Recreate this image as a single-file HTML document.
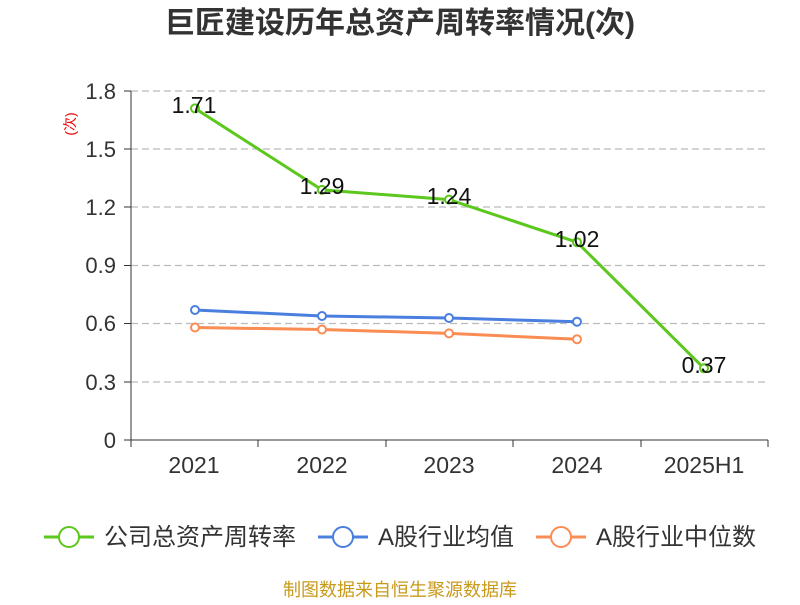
<!DOCTYPE html>
<html><head><meta charset="utf-8"><style>
body{margin:0;background:#fff;}
svg text{font-family:"Liberation Sans","Noto Sans CJK SC",sans-serif;}
</style></head><body>
<svg width="800" height="600" xmlns="http://www.w3.org/2000/svg">
<rect width="800" height="600" fill="#fff"/>
<text x="400" y="33" text-anchor="middle" font-size="30" font-weight="bold" fill="#333">巨匠建设历年总资产周转率情况(次)</text>
<g stroke="#bbb" stroke-dasharray="7,4" stroke-width="1.3">
<line x1="131" y1="91" x2="768" y2="91"/><line x1="131" y1="149" x2="768" y2="149"/>
<line x1="131" y1="207" x2="768" y2="207"/><line x1="131" y1="265.5" x2="768" y2="265.5"/>
<line x1="131" y1="323.5" x2="768" y2="323.5"/><line x1="131" y1="382" x2="768" y2="382"/>
</g>
<g stroke="#333" stroke-width="1">
<line x1="131" y1="91" x2="131" y2="440"/><line x1="131" y1="440" x2="768" y2="440"/>
<line x1="124" y1="91" x2="131" y2="91"/><line x1="124" y1="149" x2="131" y2="149"/><line x1="124" y1="207" x2="131" y2="207"/><line x1="124" y1="265.5" x2="131" y2="265.5"/><line x1="124" y1="323.5" x2="131" y2="323.5"/><line x1="124" y1="382" x2="131" y2="382"/><line x1="124" y1="440" x2="131" y2="440"/>
<line x1="131" y1="440" x2="131" y2="447"/><line x1="258" y1="440" x2="258" y2="447"/><line x1="386" y1="440" x2="386" y2="447"/><line x1="513" y1="440" x2="513" y2="447"/><line x1="641" y1="440" x2="641" y2="447"/><line x1="768" y1="440" x2="768" y2="447"/>
</g>
<g font-size="22" fill="#333" text-anchor="end">
<text x="116" y="99">1.8</text><text x="116" y="157">1.5</text><text x="116" y="215">1.2</text><text x="116" y="273">0.9</text><text x="116" y="331">0.6</text><text x="116" y="390">0.3</text><text x="116" y="448">0</text>
</g>
<g font-size="23" fill="#333" text-anchor="middle">
<text x="194" y="473">2021</text><text x="322" y="473">2022</text><text x="449" y="473">2023</text><text x="577" y="473">2024</text><text x="704" y="473">2025H1</text>
</g>
<text x="0" y="0" font-size="14" fill="#e00" transform="translate(75,124) rotate(-90)" text-anchor="middle">(次)</text>
<polyline points="195,108.4 322,189.9 449,199.6 577,242.2 704,368.3" fill="none" stroke="#5cc71c" stroke-width="3"/>
<polyline points="195,310 322,316 449,318 577,321.7" fill="none" stroke="#4a7fe0" stroke-width="3"/>
<polyline points="195,327.5 322,329.5 449,333.4 577,339.2" fill="none" stroke="#fa8c54" stroke-width="3"/>
<g fill="#fff" stroke-width="2">
<g stroke="#5cc71c"><circle cx="195" cy="108.4" r="4"/><circle cx="322" cy="189.9" r="4"/><circle cx="449" cy="199.6" r="4"/><circle cx="577" cy="242.2" r="4"/><circle cx="704" cy="368.3" r="4"/></g>
<g stroke="#4a7fe0"><circle cx="195" cy="310" r="4"/><circle cx="322" cy="316" r="4"/><circle cx="449" cy="318" r="4"/><circle cx="577" cy="321.7" r="4"/></g>
<g stroke="#fa8c54"><circle cx="195" cy="327.5" r="4"/><circle cx="322" cy="329.5" r="4"/><circle cx="449" cy="333.4" r="4"/><circle cx="577" cy="339.2" r="4"/></g>
</g>
<g font-size="23" fill="#111" text-anchor="middle">
<text x="194" y="113">1.71</text><text x="322" y="194">1.29</text><text x="449" y="204">1.24</text><text x="577" y="247">1.02</text><text x="704" y="373">0.37</text>
</g>
<g font-size="24" fill="#333">
<line x1="44" y1="537" x2="94" y2="537" stroke="#5cc71c" stroke-width="3"/><circle cx="69" cy="537" r="10" fill="#fff" stroke="#5cc71c" stroke-width="2"/>
<text x="104" y="545">公司总资产周转率</text>
<line x1="318" y1="537" x2="368" y2="537" stroke="#4a7fe0" stroke-width="3"/><circle cx="343" cy="537" r="10" fill="#fff" stroke="#4a7fe0" stroke-width="2"/>
<text x="378" y="545">A股行业均值</text>
<line x1="536" y1="537" x2="586" y2="537" stroke="#fa8c54" stroke-width="3"/><circle cx="561" cy="537" r="10" fill="#fff" stroke="#fa8c54" stroke-width="2"/>
<text x="596" y="545">A股行业中位数</text>
</g>
<text x="400" y="596" font-size="18" fill="#c89a1a" text-anchor="middle">制图数据来自恒生聚源数据库</text>
</svg>
</body></html>
